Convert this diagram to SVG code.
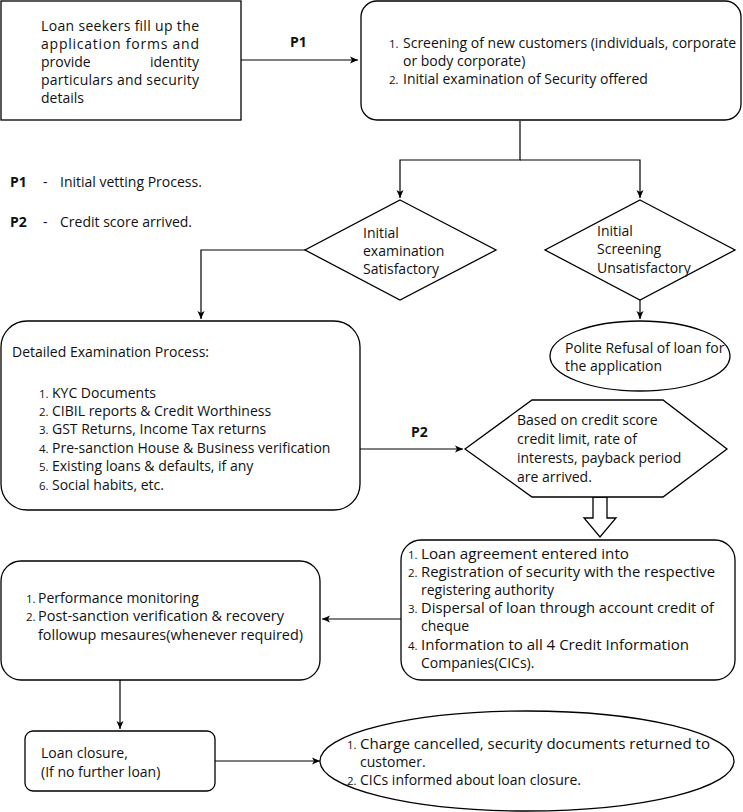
<svg xmlns="http://www.w3.org/2000/svg" width="743" height="812" viewBox="0 0 743 812">
<defs>
<marker id="ah" markerWidth="10" markerHeight="10" refX="9" refY="5" orient="auto" markerUnits="userSpaceOnUse">
<path d="M1,1.5 L9,5 L1,8.5 L3,5 Z" fill="#000"/>
</marker>
<style>
.s{fill:#fff;stroke:#000;stroke-width:1.3}
.c{fill:none;stroke:#000;stroke-width:1.2}
text{font-family:"Open Sans","Noto Sans","DejaVu Sans",sans-serif;font-size:14px;fill:#111}
.n{font-size:11.5px}
.b{font-weight:bold}
</style>
</defs>
<rect width="743" height="812" fill="#fff"/>
<g id="connectors">
<path class="c" d="M241,60 H358" marker-end="url(#ah)"/>
<path class="c" d="M520,121 V160 H400 V198" marker-end="url(#ah)"/>
<path class="c" d="M520,160 H640 V198" marker-end="url(#ah)"/>
<path class="c" d="M640,300 V319" marker-end="url(#ah)"/>
<path class="c" d="M305,250 H201 V319" marker-end="url(#ah)"/>
<path class="c" d="M360,449 H463" marker-end="url(#ah)"/>
<path class="c" d="M401,619 H322" marker-end="url(#ah)"/>
<path class="c" d="M120,680 V729" marker-end="url(#ah)"/>
<path class="c" d="M215,761 H320" marker-end="url(#ah)"/>
<path class="s" d="M593,497 H607 V518 H616 L600,537 L584,518 H593 Z"/>
<text class="b" x="290" y="47">P1</text>
<text class="b" x="411" y="437">P2</text>
</g>
<g id="legend">
<text class="b" x="10" y="187">P1</text><text x="43" y="187">-</text><text x="60" y="187">Initial vetting Process.</text>
<text class="b" x="10" y="227">P2</text><text x="43" y="227">-</text><text x="60" y="227">Credit score arrived.</text>
</g>
<g id="n1">
<rect class="s" x="1" y="1" width="240" height="119"/>
<text x="41" y="31" textLength="158" lengthAdjust="spacing">Loan seekers fill up the</text>
<text x="41" y="49" textLength="158" lengthAdjust="spacing">application forms and</text>
<text x="41" y="67">provide</text><text x="199" y="67" text-anchor="end">identity</text>
<text x="41" y="85" textLength="158" lengthAdjust="spacing">particulars and security</text>
<text x="41" y="103">details</text>
</g>
<g id="n2">
<rect class="s" x="361" y="1" width="380" height="119" rx="16"/>
<text class="n" x="389" y="48">1.</text><text x="403" y="48">Screening of new customers (individuals, corporate</text>
<text x="403" y="66">or body corporate)</text>
<text class="n" x="389" y="84">2.</text><text x="403" y="84">Initial examination of Security offered</text>
</g>
<g id="n3">
<polygon class="s" points="400,200 496,250 400,300 305,250"/>
<text x="363" y="238">Initial</text>
<text x="363" y="256">examination</text>
<text x="363" y="274">Satisfactory</text>
</g>
<g id="n4">
<polygon class="s" points="640,200 735,250 640,300 545,250"/>
<text x="597" y="236">Initial</text>
<text x="597" y="254">Screening</text>
<text x="597" y="273">Unsatisfactory</text>
</g>
<g id="n5">
<ellipse class="s" cx="640" cy="356" rx="90" ry="35"/>
<text x="565" y="353">Polite Refusal of loan for</text>
<text x="565" y="371">the application</text>
</g>
<g id="n6">
<rect class="s" x="1" y="321" width="359" height="189" rx="26"/>
<text x="12" y="357">Detailed Examination Process:</text>
<text class="n" x="39" y="398">1.</text><text x="52" y="398">KYC Documents</text>
<text class="n" x="39" y="416">2.</text><text x="52" y="416">CIBIL reports &amp; Credit Worthiness</text>
<text class="n" x="39" y="434">3.</text><text x="52" y="434">GST Returns, Income Tax returns</text>
<text class="n" x="39" y="453">4.</text><text x="52" y="453">Pre-sanction House &amp; Business verification</text>
<text class="n" x="39" y="471">5.</text><text x="52" y="471">Existing loans &amp; defaults, if any</text>
<text class="n" x="39" y="490">6.</text><text x="52" y="490">Social habits, etc.</text>
</g>
<g id="n7">
<polygon class="s" points="465,449 532,400 663,400 727,449 663,497 532,497"/>
<text x="517" y="425">Based on credit score</text>
<text x="517" y="444">credit limit, rate of</text>
<text x="517" y="463">interests, payback period</text>
<text x="517" y="482">are arrived.</text>
</g>
<g id="n8">
<rect class="s" x="401" y="540" width="334" height="140" rx="20"/>
<text class="n" x="408" y="559">1.</text><text x="421" y="559" textLength="208" lengthAdjust="spacingAndGlyphs">Loan agreement entered into</text>
<text class="n" x="408" y="577">2.</text><text x="421" y="577" textLength="294" lengthAdjust="spacingAndGlyphs">Registration of security with the respective</text>
<text x="421" y="595">registering authority</text>
<text class="n" x="408" y="613">3.</text><text x="421" y="613" textLength="293" lengthAdjust="spacingAndGlyphs">Dispersal of loan through account credit of</text>
<text x="421" y="631">cheque</text>
<text class="n" x="408" y="650">4.</text><text x="421" y="650" textLength="268" lengthAdjust="spacingAndGlyphs">Information to all 4 Credit Information</text>
<text x="421" y="668">Companies(CICs).</text>
</g>
<g id="n9">
<rect class="s" x="1" y="561" width="319" height="119" rx="20"/>
<text class="n" x="26" y="603">1.</text><text x="38" y="603">Performance monitoring</text>
<text class="n" x="26" y="621">2.</text><text x="38" y="621" textLength="246" lengthAdjust="spacingAndGlyphs">Post-sanction verification &amp; recovery</text>
<text x="38" y="640" textLength="265" lengthAdjust="spacingAndGlyphs">followup mesaures(whenever required)</text>
</g>
<g id="n10">
<rect class="s" x="25" y="731" width="190" height="60" rx="8"/>
<text x="41" y="758">Loan closure,</text>
<text x="41" y="777">(If no further loan)</text>
</g>
<g id="n11">
<ellipse class="s" cx="527" cy="761" rx="207" ry="50"/>
<text class="n" x="347" y="749">1.</text><text x="360" y="749" textLength="350" lengthAdjust="spacingAndGlyphs">Charge cancelled, security documents returned to</text>
<text x="360" y="767">customer.</text>
<text class="n" x="347" y="785">2.</text><text x="360" y="785">CICs informed about loan closure.</text>
</g>
</svg>
